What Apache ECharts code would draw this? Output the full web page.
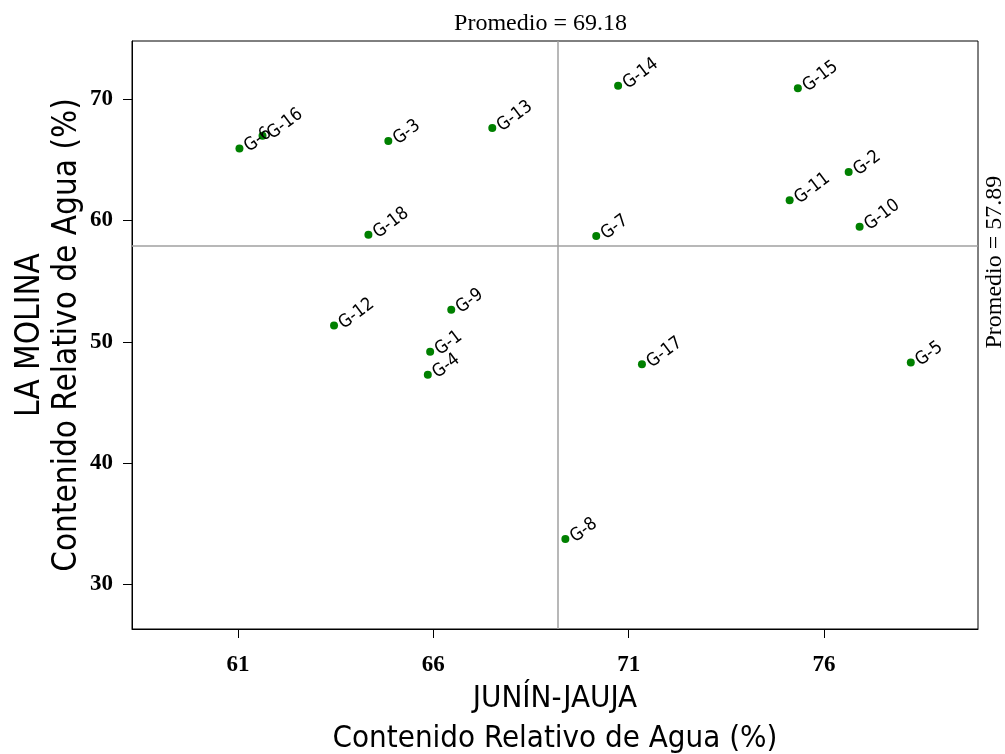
<!DOCTYPE html>
<html><head><meta charset="utf-8">
<script src="https://cdn.jsdelivr.net/npm/echarts@6/dist/echarts.min.js"></script>
<style>html,body{margin:0;padding:0;background:#fff}#c{width:1005px;height:754px}</style>
</head><body><div id="c"></div>
<script>
const genotypes = ["G-1","G-2","G-3","G-4","G-5","G-6","G-7","G-8","G-9","G-10","G-11","G-12","G-13","G-14","G-15","G-16","G-17","G-18"];
const junin = [65.92,76.63,64.85,65.86,78.22,61.04,70.17,69.38,66.46,76.91,75.12,63.46,67.51,70.73,75.33,61.63,71.34,64.34];
const molina = [49.18,64.01,66.56,47.28,48.29,65.93,58.73,33.74,52.64,59.48,61.68,51.34,67.63,71.12,70.91,66.98,48.16,58.82];
const xTicks = [61,66,71,76];
const yTicks = [30,40,50,60,70];
const meanX = 69.18, meanY = 57.89;

const chart = echarts.init(document.getElementById('c'));
const data = genotypes.map((g,i)=>({name:g, value:[junin[i], molina[i]]}));
const tickFont = {fontFamily:'Liberation Serif', fontWeight:'bold', fontSize:23, color:'#000'};
chart.setOption({
  animation:false,
  grid:{left:132, top:41, right:27, bottom:125, show:true, borderColor:'#000', borderWidth:1, containLabel:false, outerBoundsMode:'none'},
  xAxis:{type:'value', min:58.29, max:79.94,
    name:'JUNÍN-JAUJA\nContenido Relativo de Agua (%)', nameLocation:'middle', nameGap:50, nameMoveOverlap:false,
    nameTextStyle:{fontFamily:'DejaVu Sans Condensed', fontSize:31, color:'#000', lineHeight:40},
    axisLine:{show:true, onZero:false, lineStyle:{color:'#000', width:1}},
    axisTick:{show:true, length:9, customValues:xTicks, lineStyle:{color:'#000'}},
    axisLabel:Object.assign({customValues:xTicks, margin:25}, tickFont),
    splitLine:{show:false}},
  yAxis:{type:'value', min:26.33, max:74.80,
    name:'LA MOLINA\nContenido Relativo de Agua (%)', nameLocation:'middle', nameGap:46, nameMoveOverlap:false,
    nameTextStyle:{fontFamily:'DejaVu Sans Condensed', fontSize:33, color:'#000', lineHeight:37},
    axisLine:{show:true, onZero:false, lineStyle:{color:'#000', width:1}},
    axisTick:{show:true, length:9, customValues:yTicks, lineStyle:{color:'#000'}},
    axisLabel:Object.assign({customValues:yTicks, margin:19}, tickFont),
    splitLine:{show:false}},
  series:[{
    type:'scatter', data:data, symbolSize:8, itemStyle:{color:'#008000', opacity:1},
    label:{show:true, formatter:'{b}', position:'right', distance:3, rotate:37,
      fontFamily:'DejaVu Sans Condensed', fontSize:18, color:'#000'},
    markLine:{silent:true, symbol:'none', label:{show:false},
      lineStyle:{color:'#a0a0a0', width:1.5, type:'solid'},
      data:[{xAxis:meanX},{yAxis:meanY}]}
  }]
});
const px = chart.convertToPixel({gridIndex:0}, [meanX, meanY]);
chart.setOption({graphic:[
  {type:'text', x:px[0]-17, y:24, style:{text:'Promedio = '+meanX.toFixed(2), font:'24px "Liberation Serif"', fill:'#000', textAlign:'center', textVerticalAlign:'middle'}},
  {type:'text', x:995, y:px[1]+16, rotation:Math.PI/2, style:{text:'Promedio = '+meanY.toFixed(2), font:'24px "Liberation Serif"', fill:'#000', textAlign:'center', textVerticalAlign:'middle'}}
]});
</script></body></html>
